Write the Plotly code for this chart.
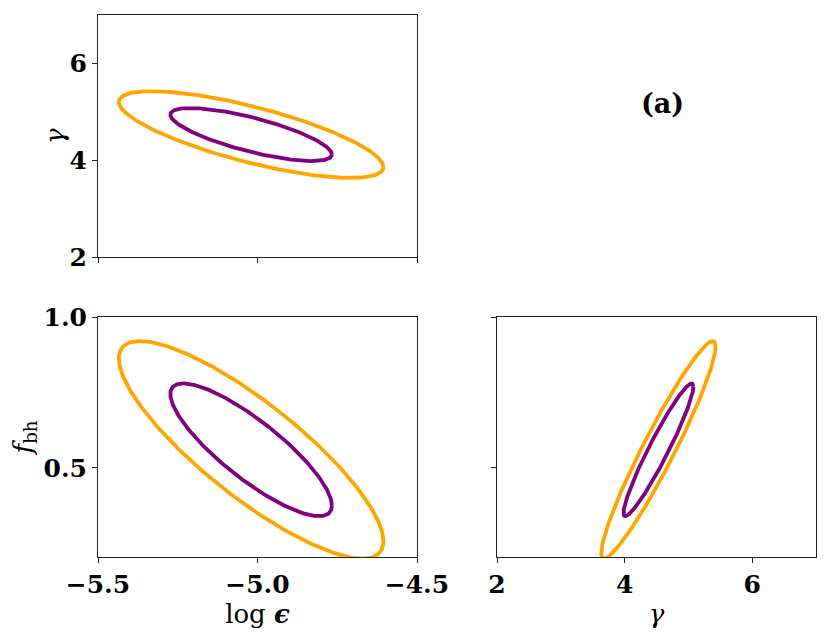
import numpy as np
import plotly.graph_objects as go

# Fisher-forecast parameters
param_names = ["logeps", "gamma", "fbh"]
centers = [-5.02, 4.53, 0.56]
sigmas = [0.167, 0.361, 0.145]
# correlation coefficients between parameter pairs
corr_eps_gamma = -0.75
corr_eps_fbh = -0.84
corr_gamma_fbh = 0.95
# contour levels (delta chi^2): 95.4% and 68.3% for 2 parameters
levels = [6.17, 2.30]
level_colors = ["#FFA500", "#800080"]

# tick labels
x_eps_ticks = [-5.5, -5.0, -4.5]
x_eps_text = ["\u22125.5", "\u22125.0", "\u22124.5"]
gamma_ticks = [2, 4, 6]
gamma_text = ["2", "4", "6"]
fbh_ticks = [0.5, 1.0]
fbh_text = ["0.5", "1.0"]


def ellipse(i, j, rho, k, n=400):
    t = np.linspace(0, 2 * np.pi, n)
    si, sj = sigmas[i], sigmas[j]
    cov = np.array([[si * si, rho * si * sj], [rho * si * sj, sj * sj]])
    L = np.linalg.cholesky(cov)
    pts = np.sqrt(k) * L @ np.vstack([np.cos(t), np.sin(t)])
    return centers[i] + pts[0], centers[j] + pts[1]


fig = go.Figure()
panels = [
    (0, 1, corr_eps_gamma, "x", "y"),
    (0, 2, corr_eps_fbh, "x2", "y2"),
    (1, 2, corr_gamma_fbh, "x3", "y3"),
]
for i, j, rho, xa, ya in panels:
    for k, c in zip(levels, level_colors):
        ex, ey = ellipse(i, j, rho, k)
        fig.add_trace(go.Scatter(x=ex, y=ey, mode="lines", xaxis=xa, yaxis=ya,
                                 line=dict(color=c, width=3.8), showlegend=False,
                                 hoverinfo="skip"))

tickfont = dict(family="DejaVu Serif", size=25, color="black", weight="bold")
titlefont = dict(family="DejaVu Serif", size=26, color="black")
common = dict(showline=True, linecolor="#222", linewidth=1, mirror=True,
              ticks="outside", ticklen=5, tickwidth=1, tickcolor="#222",
              showgrid=False, zeroline=False, tickfont=tickfont, automargin=False)

xl = [0, (417 - 98) / 718]
xr = [(497 - 98) / 718, 1]
yt = [(557 - 257) / 542, 1]
yb = [0, (557 - 317) / 542]

fig.update_layout(
    template="none",
    width=815, height=624,
    margin=dict(l=90, r=7, t=7, b=75),
    paper_bgcolor="white", plot_bgcolor="white",
    xaxis=dict(domain=xl, anchor="y", range=[-5.5, -4.5], tickvals=x_eps_ticks,
               showticklabels=False, **common),
    yaxis=dict(domain=yt, anchor="x", range=[2, 7], tickvals=gamma_ticks,
               ticktext=gamma_text, **common),
    xaxis2=dict(domain=xl, anchor="y2", range=[-5.5, -4.5], tickvals=x_eps_ticks,
                ticktext=x_eps_text,
                title=dict(text="log <b><i>\u03f5</i></b>", font=titlefont, standoff=6),
                **common),
    yaxis2=dict(domain=yb, anchor="x2", range=[0.205, 1.0], tickvals=fbh_ticks,
                ticktext=fbh_text,
                title=dict(text="<i>f</i><sub>bh</sub>", font=titlefont,
                           standoff=14), **common),
    xaxis3=dict(domain=xr, anchor="y3", range=[2, 7], tickvals=gamma_ticks,
                ticktext=gamma_text,
                title=dict(text="<i>\u03b3</i>", font=titlefont, standoff=6), **common),
    yaxis3=dict(domain=yb, anchor="x3", range=[0.205, 1.0], tickvals=fbh_ticks,
                showticklabels=False, **common),
    annotations=[
        dict(text="<b>(a)</b>", x=(662 - 98) / 718, y=(557 - 103) / 542,
             xref="paper", yref="paper", xanchor="center", yanchor="middle",
             showarrow=False,
             font=dict(family="DejaVu Serif", size=27, color="black")),
        dict(text="<i>\u03b3</i>", x=(55 - 98) / 718, y=(557 - 136) / 542,
             xref="paper", yref="paper", xanchor="center", yanchor="middle",
             textangle=-90, showarrow=False, font=titlefont),
    ],
)

fig.write_html("out.html")
